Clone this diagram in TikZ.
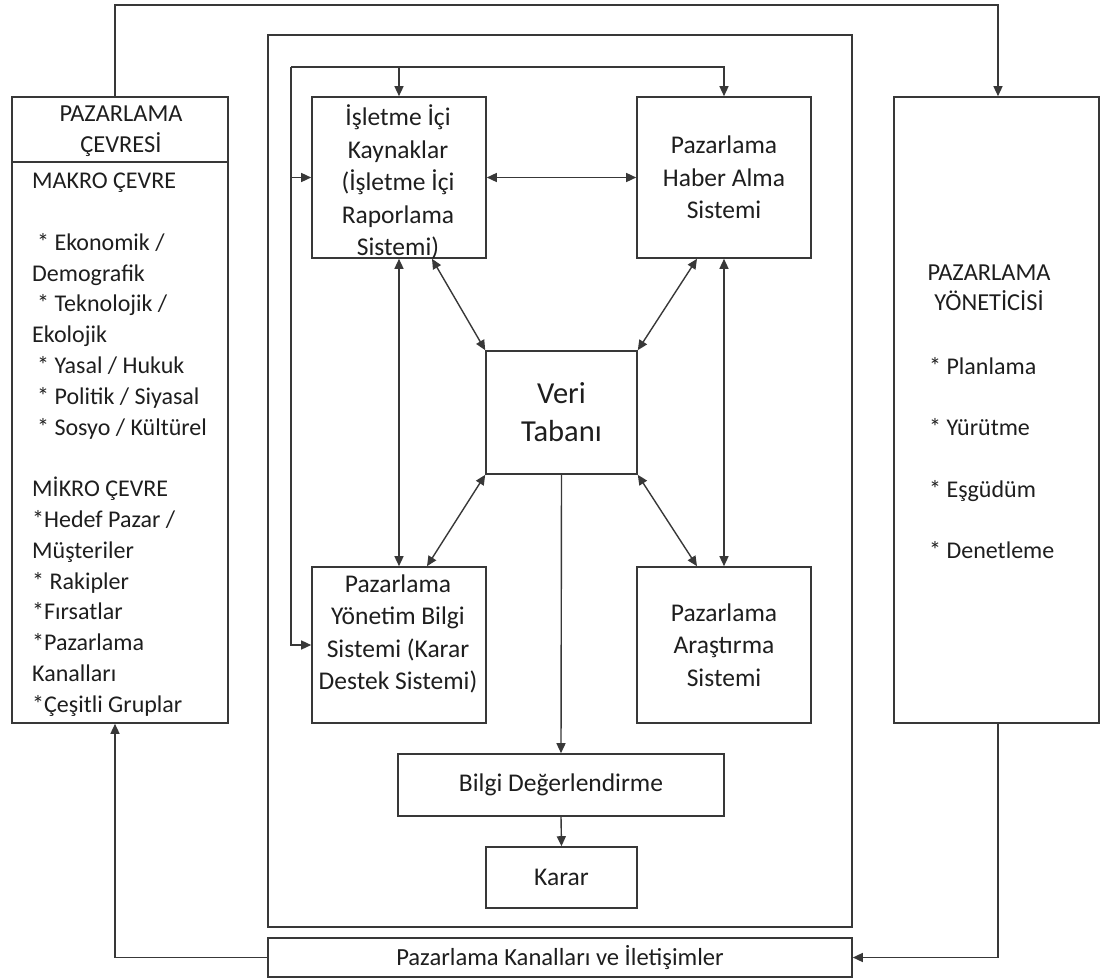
\documentclass[tikz,border=0pt]{standalone}
\usepackage{fontspec}
\setmainfont{Carlito}
\usetikzlibrary{arrows.meta,calc}
\definecolor{ink}{HTML}{383838}
\definecolor{txtc}{HTML}{1E1E1E}
\newcommand\fsz[2]{\fontsize{#1}{#2}\selectfont}
\begin{document}
\begin{tikzpicture}[x=1pt,y=-1pt,
  box/.style={draw=ink,line width=1.6pt,inner sep=0pt,text=txtc,align=center,
    font=\fsz{25.5}{32.5}},
  lbl/.style={inner sep=0pt,text=txtc},
  arr/.style={draw=ink,line width=1.4pt,-{Triangle[length=10pt,width=9pt]}},
  darr/.style={draw=ink,line width=1.4pt,{Triangle[length=10pt,width=9pt]}-{Triangle[length=10pt,width=9pt]}}]
\useasboundingbox (0,0) rectangle (1101,979);

% outer frame of the information system
\node[box,minimum width=584pt,minimum height=892pt] (frame) at (560,481) {};

% environment and manager columns
\node[box,minimum width=216pt,minimum height=626pt] (lbox) at (120,410) {};
\node[box,minimum width=205pt,minimum height=626pt] (rbox) at (996.5,410) {};
\draw[draw=ink,line width=1.6pt] (lbox.west |- 0,162) -- (lbox.east |- 0,162);

\node[lbl,align=center,font=\fsz{24.4}{31}] (lhead) at (121,131) {PAZARLAMA\\ÇEVRESİ};
\node[lbl,align=left,anchor=north west,font=\fsz{24}{30.8}] (lbody) at (32,173)
  {MAKRO ÇEVRE\\ ~\\
   \hspace{5pt}* Ekonomik /\\
   Demografik\\
   \hspace{5pt}* Teknolojik /\\
   Ekolojik\\
   \hspace{5pt}* Yasal / Hukuk\\
   \hspace{5pt}* Politik / Siyasal\\
   \hspace{5pt}* Sosyo / Kültürel\\ ~\\
   MİKRO ÇEVRE\\
   *Hedef Pazar /\\
   Müşteriler\\
   * Rakipler\\
   *Fırsatlar\\
   *Pazarlama\\
   Kanalları\\
   *Çeşitli Gruplar};

\node[lbl,align=center,font=\fsz{24.4}{30.5}] (rhead) at (989,288) {PAZARLAMA\\YÖNETİCİSİ};
\node[lbl,align=left,anchor=north west,font=\fsz{24}{61.5}] (rbody) at (929,357)
  {* Planlama\\* Yürütme\\* Eşgüdüm\\* Denetleme};

% subsystems
\node[box,minimum width=174pt,minimum height=161pt] (isl) at (399,177.5) {};
\node[lbl,align=center,font=\fsz{25.5}{32.5}] (isllbl) at (398,182)
  {İşletme İçi\\Kaynaklar\\(İşletme İçi\\Raporlama\\Sistemi)};
\node[box,minimum width=174pt,minimum height=161pt] (haber) at (724,177.5)
  {Pazarlama\\Haber Alma\\Sistemi};
\node[box,minimum width=151pt,minimum height=123pt,font=\fsz{30.5}{38}] (veri) at (561.5,412.5)
  {Veri\\Tabanı};
\node[box,minimum width=174pt,minimum height=156pt] (yon) at (399,645) {};
\node[lbl,align=center,font=\fsz{25.5}{32.5}] (yonlbl) at (398,634)
  {Pazarlama\\Yönetim Bilgi\\Sistemi (Karar\\Destek Sistemi)};
\node[box,minimum width=174pt,minimum height=156pt] (ars) at (724,645)
  {Pazarlama\\Araştırma\\Sistemi};
\node[box,minimum width=326pt,minimum height=62pt] (bilgi) at (561,785)
  {Bilgi Değerlendirme};
\node[box,minimum width=151pt,minimum height=61pt] (karar) at (561.5,877.5)
  {Karar};
\node[box,minimum width=584pt,minimum height=39pt,font=\fsz{24.6}{28}] (bot) at (560,957.5)
  {Pazarlama Kanalları ve İletişimler};

% routing points
\coordinate (tl) at (115,5);
\coordinate (tr) at (998,5);
\coordinate (loopL) at (291,67);

% outer feedback loop
\draw[arr] (lbox.north -| tl) -- (tl) -- (tr) -- (tr |- rbox.north);
\draw[arr] (rbox.south -| tr) |- (bot.east);
\draw[arr] (bot.west) -| (lbox.south -| tl);

% inner distribution loop
\draw[arr] (loopL) -| (haber.north);
\draw[arr] (isl.north |- loopL) -- (isl.north);
\draw[arr] (loopL) |- (yon.west);
\draw[arr] (loopL |- isl.west) -- (isl.west);

% links between subsystems
\draw[darr] (isl) -- (haber);
\draw[darr] (isl.south) -- (yon.north);
\draw[darr] (haber.south) -- (ars.north);
\draw[darr] ([xshift=33pt]isl.south) -- (veri.north west);
\draw[darr] ([xshift=-27pt]haber.south) -- (veri.north east);
\draw[darr] (veri.south west) -- ([xshift=28pt]yon.north);
\draw[darr] (veri.south east) -- ([xshift=-27pt]ars.north);

% decision flow
\draw[arr] (veri.south) -- (bilgi.north);
\draw[arr] (bilgi.south) -- (karar.north);
\end{tikzpicture}
\end{document}
